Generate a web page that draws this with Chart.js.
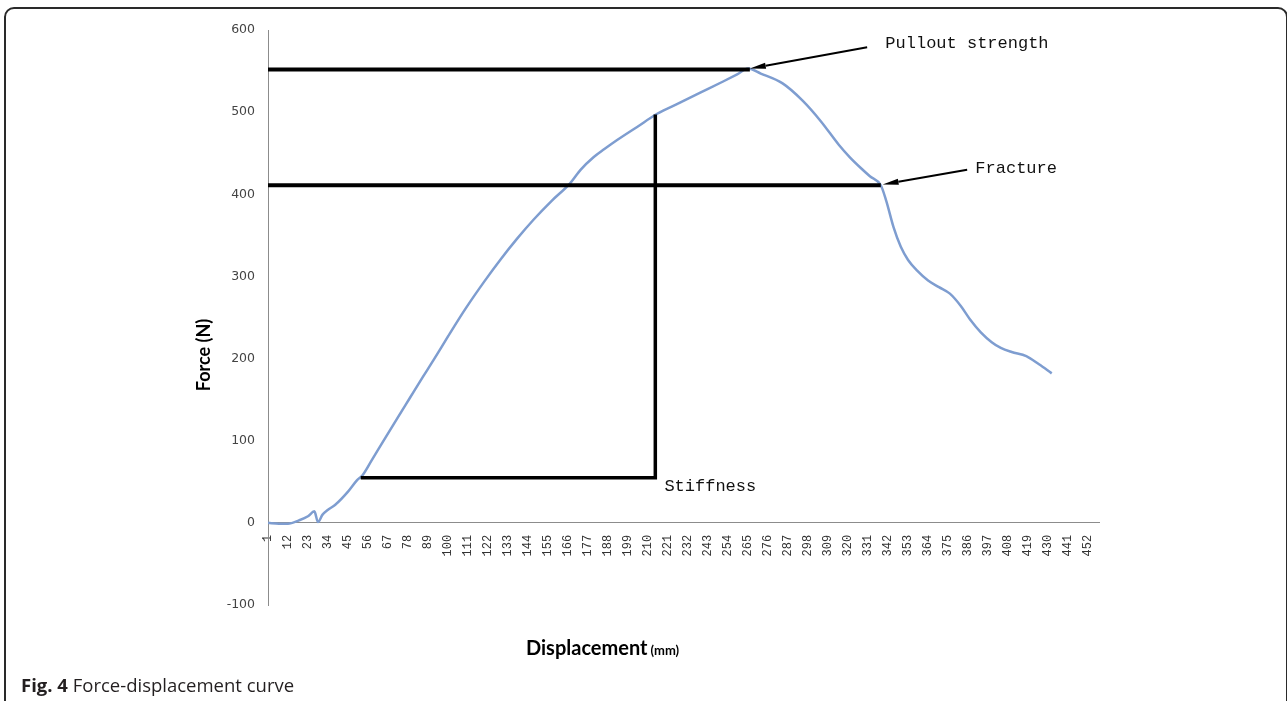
<!DOCTYPE html>
<html>
<head>
  <meta charset="utf-8">
  <title>Force-displacement curve</title>
  <script src="https://cdn.jsdelivr.net/npm/chart.js"></script>
  <style>
    body { margin: 0; background: #fff; overflow: hidden; }
    #wrap { position: absolute; left: 0; top: 0; width: 1287px; height: 701px; overflow: hidden; }
    #frame { position: absolute; left: 4px; top: 7px; width: 1284px; height: 720px; border: 2px solid #2a2a2a; border-radius: 10px; box-sizing: border-box; }
    #caption { position: absolute; left: 21px; top: 672px; font: 18.5px "Open Sans", sans-serif; color: #231f20; white-space: nowrap; }
    #caption b { font-weight: 700; }
    canvas { position: absolute; left: 0; top: 0; }
  </style>
</head>
<body>
<div id="wrap">
  <div id="frame"></div>
  <canvas id="forceChart" width="1287" height="701"></canvas>
  <div id="caption"><b>Fig. 4</b> Force-displacement curve</div>
</div>

<script>
  // displacement (category index) and force (N)
  const dispX = [1, 7, 12, 18, 23, 26.5, 28.5, 31, 34, 38, 45, 50, 53, 58, 64, 72, 79, 86, 92,
    100, 110, 120, 129, 138, 147, 157, 167, 173, 180, 186, 193, 204, 215, 227, 239, 251, 259, 265,
    272, 284, 295, 305, 315, 321, 327, 332, 338, 341, 345, 349, 353, 358, 364, 370, 376, 382,
    387, 393, 399, 404, 410, 418, 425, 432];
  const forceY = [0, -1, -1, 3, 8, 14, 1, 10, 16, 22, 38, 52, 58, 76, 98, 127, 152, 177, 198,
    227, 262, 294, 321, 346, 369, 392, 413, 430, 445, 455, 466, 482, 498, 511, 524, 537, 546, 553,
    547, 535, 514, 489, 460, 445, 432, 422, 411, 392, 360, 336, 320, 307, 295, 287, 279, 264,
    248, 232, 220, 213, 208, 203, 193, 182];

  const xTickLabels = [1, 12, 23, 34, 45, 56, 67, 78, 89, 100, 111, 122, 133, 144, 155, 166, 177,
    188, 199, 210, 221, 232, 243, 254, 265, 276, 287, 298, 309, 320, 331, 342, 353, 364, 375, 386,
    397, 408, 419, 430, 441, 452];

  // black guide lines
  const pulloutX = [1, 266], pulloutY = [552, 552];
  const fractureX = [1, 338], fractureY = [411, 411];
  const stiffX = [52, 214, 214], stiffY = [55, 55, 497];

  const notes = [
    { text: 'Pullout strength', x: 340.5, y: 584, fromX: 330.5, fromY: 579, toX: 266, toY: 553 },
    { text: 'Fracture', x: 390, y: 431, fromX: 385.5, fromY: 430, toX: 339, toY: 412 },
    { text: 'Stiffness', x: 219, y: 44 }
  ];

  const pts = (xs, ys) => xs.map((v, i) => ({ x: v, y: ys[i] }));

  function drawArrow(ctx, x1, y1, x2, y2) {
    const ang = Math.atan2(y2 - y1, x2 - x1);
    const len = 16, half = 3;
    const bx = x2 - len * Math.cos(ang), by = y2 - len * Math.sin(ang);
    ctx.strokeStyle = '#000';
    ctx.lineWidth = 2;
    ctx.beginPath();
    ctx.moveTo(x1, y1);
    ctx.lineTo(bx, by);
    ctx.stroke();
    ctx.fillStyle = '#000';
    ctx.beginPath();
    ctx.moveTo(x2, y2);
    ctx.lineTo(bx + half * Math.sin(ang), by - half * Math.cos(ang));
    ctx.lineTo(bx - half * Math.sin(ang), by + half * Math.cos(ang));
    ctx.closePath();
    ctx.fill();
  }

  const notesPlugin = {
    id: 'notes',
    afterDraw(chart) {
      const { ctx, scales: { x, y } } = chart;
      ctx.save();
      notes.forEach(n => {
        if (n.fromX !== undefined) {
          drawArrow(ctx, x.getPixelForValue(n.fromX), y.getPixelForValue(n.fromY),
            x.getPixelForValue(n.toX), y.getPixelForValue(n.toY));
        }
        ctx.font = '17px "Liberation Mono"';
        ctx.fillStyle = '#111';
        ctx.textAlign = 'left';
        ctx.textBaseline = 'middle';
        ctx.fillText(n.text, x.getPixelForValue(n.x), y.getPixelForValue(n.y));
      });

      // axis titles
      ctx.fillStyle = '#000';
      ctx.save();
      ctx.translate(204, 355);
      ctx.rotate(-Math.PI / 2);
      ctx.textAlign = 'center';
      ctx.font = 'bold 18px Lato';
      ctx.fillText('Force (N)', 0, 0);
      ctx.restore();

      ctx.textAlign = 'left';
      ctx.textBaseline = 'alphabetic';
      ctx.font = 'bold 20px Lato';
      ctx.fillText('Displacement', 526, 655);
      const w = ctx.measureText('Displacement').width;
      ctx.font = 'bold 13px Lato';
      ctx.fillText('(mm)', 526 + w + 3, 655);
      ctx.restore();
    }
  };

  new Chart(document.getElementById('forceChart').getContext('2d'), {
    type: 'line',
    data: {
      datasets: [
        {
          data: pts(dispX, forceY),
          borderColor: '#7e9dd0',
          borderWidth: 2.5,
          pointRadius: 0,
          cubicInterpolationMode: 'monotone',
          order: 2
        },
        { data: pts(pulloutX, pulloutY), borderColor: '#000', borderWidth: 4, pointRadius: 0, order: 1 },
        { data: pts(fractureX, fractureY), borderColor: '#000', borderWidth: 4, pointRadius: 0, order: 1 },
        { data: pts(stiffX, stiffY), borderColor: '#000', borderWidth: 3.5, pointRadius: 0, order: 1 }
      ]
    },
    options: {
      responsive: false,
      animation: false,
      devicePixelRatio: 1,
      layout: { padding: { left: 0, right: 188, top: 30, bottom: 96 } },
      plugins: { legend: { display: false }, tooltip: { enabled: false } },
      scales: {
        x: {
          type: 'linear',
          position: { y: 0 },
          min: 1,
          max: 458,
          grid: { display: false },
          border: { display: true, color: '#8c8c8c', width: 1 },
          afterBuildTicks: s => { s.ticks = xTickLabels.map(v => ({ value: v })); },
          afterFit: s => { s.height = 0; },
          ticks: {
            autoSkip: false,
            minRotation: 90,
            maxRotation: 90,
            padding: 4,
            color: '#333',
            font: { family: 'Liberation Mono', size: 12 }
          }
        },
        y: {
          min: -100,
          max: 600,
          grid: { display: false },
          border: { display: true, color: '#8c8c8c', width: 1 },
          afterFit: s => { s.width = 268; },
          ticks: {
            stepSize: 100,
            padding: 5,
            color: '#444',
            font: { family: 'DejaVu Sans', size: 12.5 }
          }
        }
      }
    },
    plugins: [notesPlugin]
  });
</script>
</body>
</html>
